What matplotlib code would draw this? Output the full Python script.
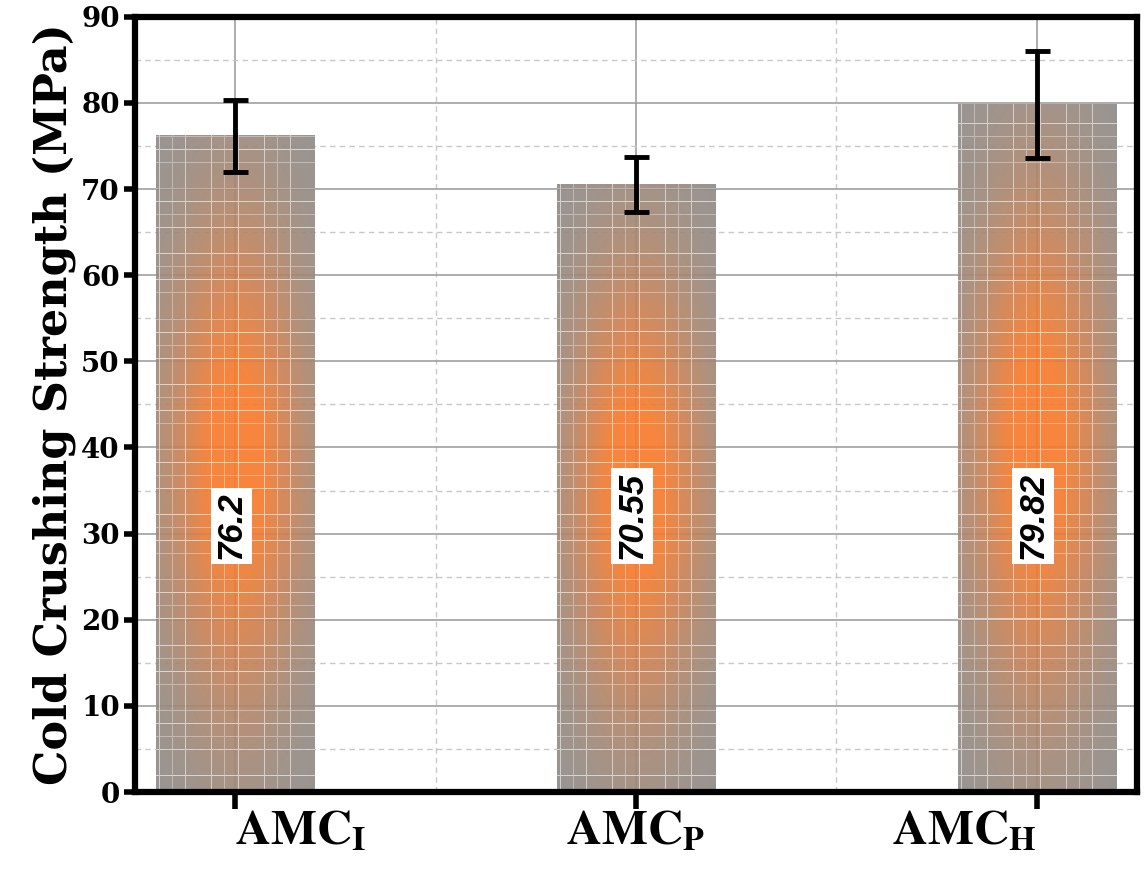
import matplotlib
matplotlib.use("Agg")
import matplotlib.pyplot as plt
import numpy as np
from matplotlib.ticker import MultipleLocator

# data
categories = [r"$\mathbf{AMC_{I}}$", r"$\mathbf{AMC_{P}}$", r"$\mathbf{AMC_{H}}$"]
strength = [76.2, 70.55, 79.82]
errors = [4.2, 3.2, 6.2]
labels = ["76.2", "70.55", "79.82"]

plt.rcParams["font.family"] = ["Liberation Serif", "DejaVu Serif"]
plt.rcParams["mathtext.fontset"] = "stix"

fig = plt.figure(figsize=(11.44, 8.69), dpi=100)
ax = fig.add_axes([0.118, 0.0886, 0.876, 0.892])

x = np.arange(len(strength))
width = 0.395

gray = np.array([0.55, 0.55, 0.55])
orange = np.array([0.97, 0.48, 0.17])


def bar_texture(h):
    # gray bar with an orange glow and a light grid texture (about screen resolution)
    ny, nx = int(h * 8.6), 158
    gx = np.linspace(-1, 1, nx)
    gy = np.linspace(0, 1, ny)
    X, Y = np.meshgrid(gx, gy)
    w = np.exp(-X**2 / (2 * 0.58**2) - (Y - 0.5)**2 / (2 * 0.25**2))
    w = np.clip(w * 1.15, 0, 1)
    img = gray * (1 - w[..., None]) + orange * w[..., None]
    mask = np.zeros((ny, nx))
    for k, c in enumerate(np.arange(3, nx, 13)):
        if k % 4 != 3:
            mask[:, int(c)] = 0.55 if k % 2 == 0 else 0.35
    for k, r in enumerate(np.arange(ny - 17, 0, -13)):
        if k % 5 != 1:
            mask[int(r), :] = np.maximum(mask[int(r), :], 0.6 if k % 2 == 0 else 0.35)
    img = img * (1 - mask[..., None]) + mask[..., None]
    return img[::-1]


ax.set_axisbelow(True)
ax.grid(which="major", color="#a0a0a0", linewidth=1.2, linestyle="-")
ax.grid(which="minor", color="#c8c8c8", linewidth=1.0, linestyle=(0, (4, 3)))

for xi, h in zip(x, strength):
    ax.imshow(bar_texture(h), extent=[xi - width / 2, xi + width / 2, 0, h], origin="lower",
              aspect="auto", zorder=2, interpolation="nearest", alpha=0.92)

ax.errorbar(x, strength, yerr=errors, fmt="none", ecolor="black", elinewidth=3.5,
            capsize=9, capthick=3.5, zorder=5)

for xi, t in zip(x, labels):
    ax.text(xi - 0.01, 27, t, rotation=90, rotation_mode="anchor", ha="left", va="center",
            fontsize=25, fontweight="bold", style="italic", family="Liberation Sans",
            bbox=dict(facecolor="white", edgecolor="none", pad=3), zorder=6)

ax.set_xlim(-0.25, 2.25)
ax.set_ylim(0, 90)
ax.set_xticks(x)
ax.set_xticklabels(categories, fontsize=35)
for lab, ha in zip(ax.get_xticklabels(), ["left", "center", "right"]):
    lab.set_ha(ha)
ax.yaxis.set_major_locator(MultipleLocator(10))
ax.yaxis.set_minor_locator(MultipleLocator(5))
ax.xaxis.set_minor_locator(MultipleLocator(0.5))
ax.set_ylabel("Cold Crushing Strength (MPa)", fontsize=32, fontweight="bold",
              family="DejaVu Serif", labelpad=4)

for lab in ax.get_yticklabels():
    lab.set_fontweight("bold")
    lab.set_fontsize(20)
    lab.set_family("DejaVu Serif")

ax.tick_params(axis="y", which="major", direction="out", length=8, width=4, pad=3)
ax.tick_params(axis="x", which="major", direction="out", length=12, width=4, pad=1)
ax.tick_params(which="minor", length=0)

for s in ax.spines.values():
    s.set_linewidth(4.5)

fig.savefig("out.png", dpi=100)
